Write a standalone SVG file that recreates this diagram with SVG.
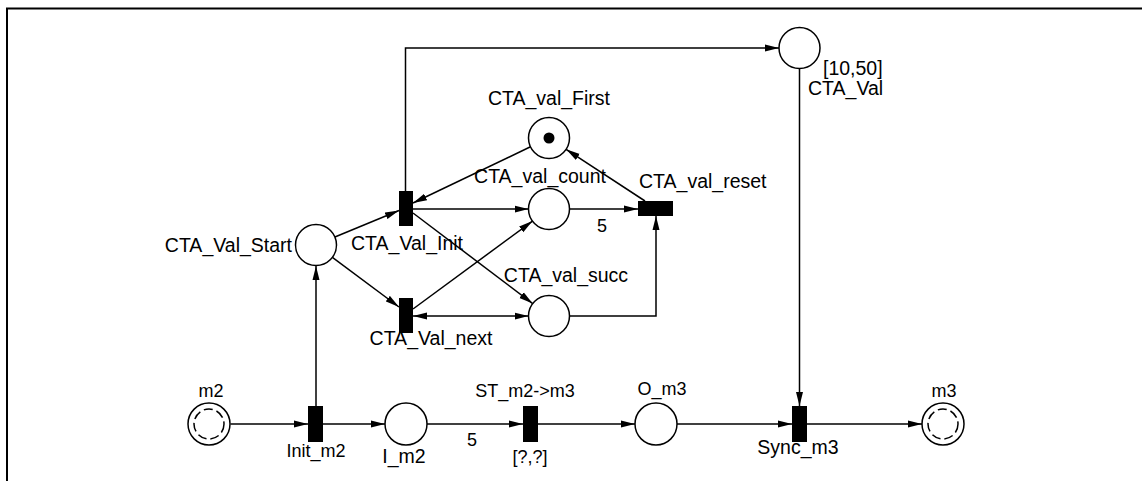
<svg xmlns="http://www.w3.org/2000/svg" width="1142" height="481" viewBox="0 0 1142 481">
<style>
.pl{fill:#fff;stroke:#000;stroke-width:1.5}
.dash{fill:none;stroke:#000;stroke-width:1.5;stroke-dasharray:9 4}
.tr{fill:#000}
.arc{fill:none;stroke:#000;stroke-width:1.5}
.ah{marker-end:url(#ah)}
text{font-family:"Liberation Sans",Arial,sans-serif;font-size:18px;fill:#000}
.b{font-size:19.5px}
.m{text-anchor:middle}
.e{text-anchor:end}
</style>
<defs>
<marker id="ah" markerUnits="userSpaceOnUse" markerWidth="14" markerHeight="8" refX="14" refY="4" orient="auto"><path d="M0,0.5 L14,4 L0,7.5 z" fill="#000"/></marker>
<marker id="ahs" markerUnits="userSpaceOnUse" markerWidth="14" markerHeight="8" refX="14" refY="4" orient="auto-start-reverse"><path d="M0,0.5 L14,4 L0,7.5 z" fill="#000"/></marker>
</defs>
<rect x="0" y="0" width="1142" height="481" fill="#fff"/>
<path d="M7,481 V8.5 H1142" fill="none" stroke="#000" stroke-width="2"/>

<g id="connectors">
<path class="arc ah" d="M230.5,424 H308"/>
<path class="arc ah" d="M323,424 H385"/>
<path class="arc ah" d="M316,406 V266"/>
<path class="arc ah" d="M427,424 H523"/>
<path class="arc ah" d="M538,424 H635"/>
<path class="arc ah" d="M677,424 H792"/>
<path class="arc ah" d="M807,424 H922"/>
<path class="arc ah" d="M799.5,68.5 V406"/>
<path class="arc ah" d="M405.5,191 V48 H779"/>
<path class="arc ah" d="M334.9,237 L399,210.5"/>
<path class="arc ah" d="M332.4,257.3 L399,307"/>
<path class="arc ah" d="M530.5,146.8 L413,203"/>
<path class="arc ah" d="M413,209 H528.5"/>
<path class="arc ah" d="M413,213 L532.7,303.6"/>
<path class="arc ah" d="M413,309 L532.5,221.1"/>
<path class="arc" d="M413,316 H528.5" marker-start="url(#ahs)" marker-end="url(#ah)"/>
<path class="arc ah" d="M569.5,209 H638"/>
<path class="arc ah" d="M569.5,316 H656 V216"/>
<path class="arc ah" d="M645,201 L566.1,149.3"/>
<text class="m" x="602" y="232">5</text>
<text class="m" x="472" y="446">5</text>
</g>

<g id="m2"><circle class="pl" cx="209" cy="424" r="21"/><circle class="dash" cx="209" cy="424" r="15"/><text class="m" x="211" y="397">m2</text></g>
<g id="Init_m2"><rect class="tr" x="308" y="406" width="15" height="36"/><text class="m" x="316" y="457">Init_m2</text></g>
<g id="I_m2"><circle class="pl" cx="406" cy="424" r="21"/><text class="m b" x="404" y="463">I_m2</text></g>
<g id="ST_m2_m3"><rect class="tr" x="523" y="406" width="15" height="36"/><text class="m" x="525" y="397">ST_m2-&gt;m3</text><text class="m" x="530" y="463">[?,?]</text></g>
<g id="O_m3"><circle class="pl" cx="656" cy="424" r="21"/><text class="m" x="662" y="395">O_m3</text></g>
<g id="Sync_m3"><rect class="tr" x="792" y="406" width="15" height="36"/><text class="m b" x="798" y="454">Sync_m3</text></g>
<g id="m3"><circle class="pl" cx="943" cy="424" r="21"/><circle class="dash" cx="943" cy="424" r="15"/><text class="m" x="944" y="397">m3</text></g>

<g id="CTA_Val_Start"><circle class="pl" cx="316" cy="245" r="20.5"/><text class="e b" x="292" y="252">CTA_Val_Start</text></g>
<g id="CTA_Val_Init"><rect class="tr" x="399" y="191" width="14" height="35"/><text class="m b" x="407" y="250">CTA_Val_Init</text></g>
<g id="CTA_Val_next"><rect class="tr" x="399" y="298" width="14" height="35"/><text class="m b" x="431" y="345">CTA_Val_next</text></g>
<g id="CTA_val_First"><circle class="pl" cx="549" cy="138" r="20.5"/><circle cx="549" cy="138" r="5.5" fill="#000"/><text class="m b" x="549" y="105">CTA_val_First</text></g>
<g id="CTA_val_count"><circle class="pl" cx="549" cy="209" r="20.5"/><text class="m b" x="540" y="183">CTA_val_count</text></g>
<g id="CTA_val_succ"><circle class="pl" cx="549" cy="316" r="20.5"/><text class="m b" x="566" y="282">CTA_val_succ</text></g>
<g id="CTA_val_reset"><rect class="tr" x="638" y="201" width="35" height="15"/><text class="b" x="639" y="188">CTA_val_reset</text></g>
<g id="CTA_Val"><circle class="pl" cx="799.5" cy="48" r="20.5"/><text class="b" x="823" y="75">[10,50]</text><text class="b" x="808" y="95">CTA_Val</text></g>
</svg>
